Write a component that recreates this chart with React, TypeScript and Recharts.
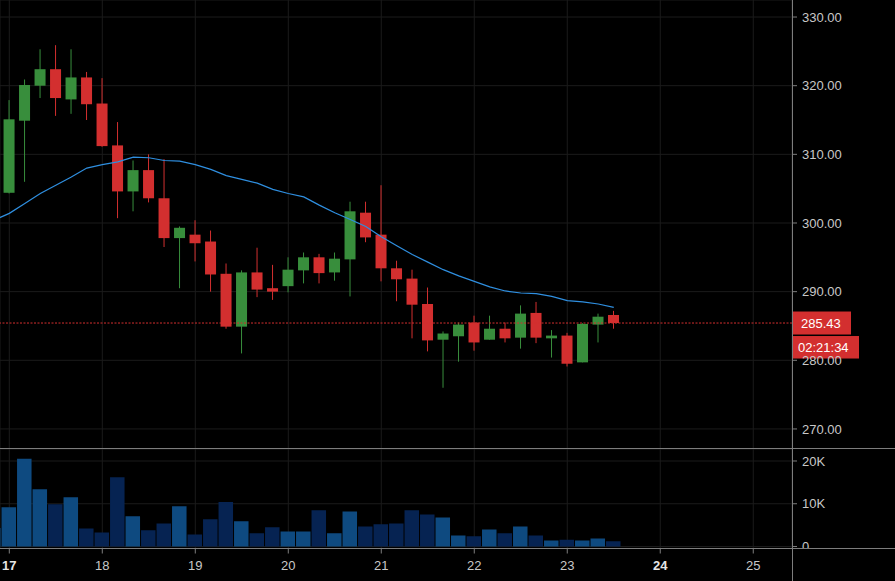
import React from 'react';
import { ComposedChart, Bar, Line, XAxis, YAxis, CartesianGrid, ReferenceLine, Cell } from 'recharts';

// ---- data (4h candles, index 0 = day 17 00:00) ----
const candleIndex = [-1, 0, 1, 2, 3, 4, 5, 6, 7, 8, 9, 10, 11, 12, 13, 14, 15, 16, 17, 18, 19, 20, 21, 22, 23, 24, 25, 26, 27, 28, 29, 30, 31, 32, 33, 34, 35, 36, 37, 38, 39];
const opens = [null, 304.4, 314.9, 320.0, 322.4, 318.0, 321.2, 317.4, 311.3, 304.6, 307.7, 303.6, 297.8, 298.3, 297.3, 292.6, 284.9, 292.8, 290.5, 290.8, 293.1, 295.0, 292.8, 294.7, 301.5, 298.3, 293.4, 291.9, 288.2, 283.0, 283.5, 285.5, 283.0, 284.6, 283.3, 286.9, 283.2, 283.6, 279.7, 285.2, 286.6];
const highs = [null, 317.9, 320.9, 325.3, 325.9, 325.3, 322.0, 321.1, 314.7, 309.1, 310.0, 309.3, 299.5, 300.4, 298.9, 294.1, 293.1, 296.4, 293.9, 295.0, 295.7, 295.5, 295.7, 303.1, 303.1, 305.5, 294.5, 293.2, 290.6, 284.2, 285.5, 286.5, 286.5, 285.5, 288.0, 288.5, 284.4, 284.0, 285.4, 286.8, 287.2];
const lows = [null, 304.3, 306.0, 318.2, 315.6, 315.9, 315.0, 311.1, 300.7, 301.7, 303.0, 296.5, 290.5, 294.4, 290.0, 284.6, 281.0, 289.2, 288.8, 289.9, 291.2, 291.2, 291.6, 289.3, 297.2, 291.5, 288.6, 283.2, 281.3, 276.0, 279.8, 281.4, 283.0, 282.6, 281.7, 282.5, 280.4, 279.1, 279.7, 282.6, 284.6];
const closes = [null, 315.1, 320.1, 322.4, 318.2, 321.2, 317.3, 311.2, 304.6, 307.7, 303.6, 297.8, 299.3, 297.05, 292.5, 284.9, 292.8, 290.3, 290.0, 293.2, 295.0, 292.7, 294.8, 301.7, 297.9, 293.4, 291.8, 288.1, 282.9, 283.9, 285.2, 282.6, 284.6, 283.2, 286.8, 283.3, 283.6, 279.5, 285.3, 286.35, 285.43];
const volumes = [4300, 9200, 20500, 13400, 9900, 11500, 4200, 3300, 16200, 7100, 3800, 5400, 9400, 2800, 6400, 10400, 5900, 3100, 4500, 3500, 3500, 8500, 3100, 8200, 4700, 5200, 5400, 8500, 7500, 6800, 2600, 2400, 4000, 3100, 4700, 2600, 1400, 1600, 1400, 1900, 1200];
const maValues = [300.4, 301.4, 302.85, 304.3, 305.5, 306.7, 308.0, 308.5, 308.9, 309.6, 309.5, 309.1, 309.0, 308.5, 307.8, 306.9, 306.35, 305.8, 304.9, 304.3, 303.8, 302.6, 301.5, 300.5, 299.5, 298.0, 296.7, 295.4, 294.3, 293.2, 292.3, 291.5, 290.7, 290.1, 289.8, 289.7, 289.3, 288.7, 288.5, 288.2, 287.7];

const dayTicks = [0, 6, 12, 18, 24, 30, 36, 42, 48];
const dayLabels = ['17', '18', '19', '20', '21', '22', '23', '24', '25'];
const boldDays = ['17', '24'];
const priceTicks = [270, 280, 290, 300, 310, 320, 330];
const volumeTicks = [0, 10000, 20000];
const lastPrice = 285.43;
const lastPriceLabel = '285.43';
const countdownLabel = '02:21:34';

const rows = candleIndex.map((i, k) => ({
  i,
  open: opens[k],
  high: highs[k],
  low: lows[k],
  close: closes[k],
  volume: volumes[k],
  ma: maValues[k],
}));

// ---- styles ----
const GREEN = '#388e3c';
const RED = '#d32f2f';
const VOL_UP = '#0e4a80';
const VOL_DOWN = '#062352';
const MA_COLOR = '#2f8fe0';
const GRID = '#1b1b1b';
const SEP = '#7d7d7d';
const TEXT = '#c8c8c8';
const FONT = '"Liberation Sans", Arial, sans-serif';

const W = 895;
const H = 581;
const AXIS_W = 103;
const PRICE_H = 449;
const VOL_H = 132;
const X_DOMAIN: [number, number] = [-0.6, 50.5];

const CandleShape = (props: any) => {
  const { x, width, payload } = props;
  let { y, height } = props;
  if (!payload || payload.open == null) return null;
  if (height < 0) {
    y += height;
    height = -height;
  }
  const { open, close, high, low } = payload;
  const color = close >= open ? GREEN : RED;
  const range = high - low;
  const py = (v: number) => y + (range === 0 ? 0 : ((high - v) / range) * height);
  const cx = x + width / 2;
  const top = py(Math.max(open, close));
  const bot = py(Math.min(open, close));
  return (
    <g>
      <line x1={cx} x2={cx} y1={y} y2={y + height} stroke={color} strokeWidth={1} />
      <rect x={x} y={top} width={width} height={Math.max(1, bot - top)} fill={color} />
    </g>
  );
};

const PriceTag = (props: any) => {
  const vb = props.viewBox || {};
  const x = (vb.x || 0) + (vb.width || 0);
  const y = vb.y || 0;
  return (
    <g>
      <rect x={x} y={y - 11.5} width={59} height={23} fill={RED} />
      <text x={x + 9} y={y} dy="0.36em" fill="#ffffff" fontSize={13} fontFamily={FONT}>
        {lastPriceLabel}
      </text>
      <rect x={x + 1} y={y + 13} width={66} height={22.5} fill={RED} />
      <text x={x + 6} y={y + 24.3} dy="0.36em" fill="#ffffff" fontSize={13} fontFamily={FONT}>
        {countdownLabel}
      </text>
    </g>
  );
};

const DayTick = (props: any) => {
  const { x, y, payload } = props;
  const label = dayLabels[dayTicks.indexOf(payload.value)] ?? '';
  const bold = boldDays.includes(label);
  return (
    <text
      x={x}
      y={y}
      dy="0.71em"
      textAnchor="middle"
      fill={bold ? '#e6e6e6' : TEXT}
      fontSize={13}
      fontWeight={bold ? 'bold' : 'normal'}
      fontFamily={FONT}
    >
      {label}
    </text>
  );
};

const VolumeTick = (props: any) => {
  const { x, y, payload } = props;
  const v = payload.value;
  const label = v === 0 ? '0' : `${v / 1000}K`;
  if (v === 0) {
    return (
      <g>
        <defs>
          <clipPath id="vol-zero-clip">
            <rect x={x - 5} y={y - 20} width={60} height={21.5} />
          </clipPath>
        </defs>
        <text x={x} y={y} dy="0.36em" fill={TEXT} fontSize={13} fontFamily={FONT} clipPath="url(#vol-zero-clip)">
          {label}
        </text>
      </g>
    );
  }
  return (
    <text x={x} y={y} dy="0.36em" fill={TEXT} fontSize={13} fontFamily={FONT}>
      {label}
    </text>
  );
};

export default function App() {
  return (
    <div style={{ position: 'relative', width: W, height: H, background: '#000', overflow: 'hidden', fontFamily: FONT }}>
      <style>{`body{margin:0;background:#000;}`}</style>

      <div style={{ position: 'absolute', left: 0, top: 0 }}>
        <ComposedChart width={W} height={PRICE_H} data={rows} margin={{ top: 0, right: 0, bottom: 0, left: 0 }}>
          <CartesianGrid stroke={GRID} strokeWidth={1} />
          <XAxis type="number" dataKey="i" domain={X_DOMAIN} allowDataOverflow ticks={dayTicks} hide />
          <YAxis
            orientation="right"
            width={AXIS_W}
            domain={[267.08, 332.48]}
            allowDataOverflow
            ticks={priceTicks}
            tickFormatter={(v: number) => v.toFixed(2)}
            axisLine={false}
            tickLine={{ stroke: SEP }}
            tickSize={5}
            tickMargin={5}
            tick={{ fill: TEXT, fontSize: 13, fontFamily: FONT }}
          />
          <Bar
            dataKey={(d: any) => (d.open == null ? null : [d.low, d.high])}
            barSize={11}
            shape={<CandleShape />}
            isAnimationActive={false}
          />
          <Line
            type="linear"
            dataKey="ma"
            stroke={MA_COLOR}
            strokeWidth={1.2}
            dot={false}
            activeDot={false}
            isAnimationActive={false}
          />
          <ReferenceLine y={lastPrice} stroke={RED} strokeDasharray="2 1.5" strokeWidth={1} label={PriceTag} />
        </ComposedChart>
      </div>

      <div style={{ position: 'absolute', left: 0, top: PRICE_H }}>
        <ComposedChart width={W} height={VOL_H} data={rows} margin={{ top: 0, right: 0, bottom: 0, left: 0 }}>
          <CartesianGrid stroke={GRID} strokeWidth={1} />
          <XAxis
            type="number"
            dataKey="i"
            domain={X_DOMAIN}
            allowDataOverflow
            ticks={dayTicks}
            height={32.5}
            axisLine={false}
            tickLine={{ stroke: SEP }}
            tickSize={5}
            tickMargin={7.5}
            tick={<DayTick />}
          />
          <YAxis
            orientation="right"
            width={AXIS_W}
            domain={[-468, 22807]}
            allowDataOverflow
            ticks={volumeTicks}
            axisLine={false}
            tickLine={{ stroke: SEP }}
            tickSize={5}
            tickMargin={5}
            tick={<VolumeTick />}
          />
          <Bar dataKey="volume" barSize={14.5} isAnimationActive={false}>
            {rows.map((r, k) => (
              <Cell key={k} fill={r.open != null && r.close < r.open ? VOL_DOWN : VOL_UP} />
            ))}
          </Bar>
        </ComposedChart>
      </div>

      {/* pane borders */}
      <div style={{ position: 'absolute', left: 0, top: 448, width: W, height: 1, background: SEP }} />
      <div style={{ position: 'absolute', left: 0, top: 548, width: W, height: 1, background: SEP }} />
      <div style={{ position: 'absolute', left: 792, top: 0, width: 1, height: H, background: SEP }} />
    </div>
  );
}
